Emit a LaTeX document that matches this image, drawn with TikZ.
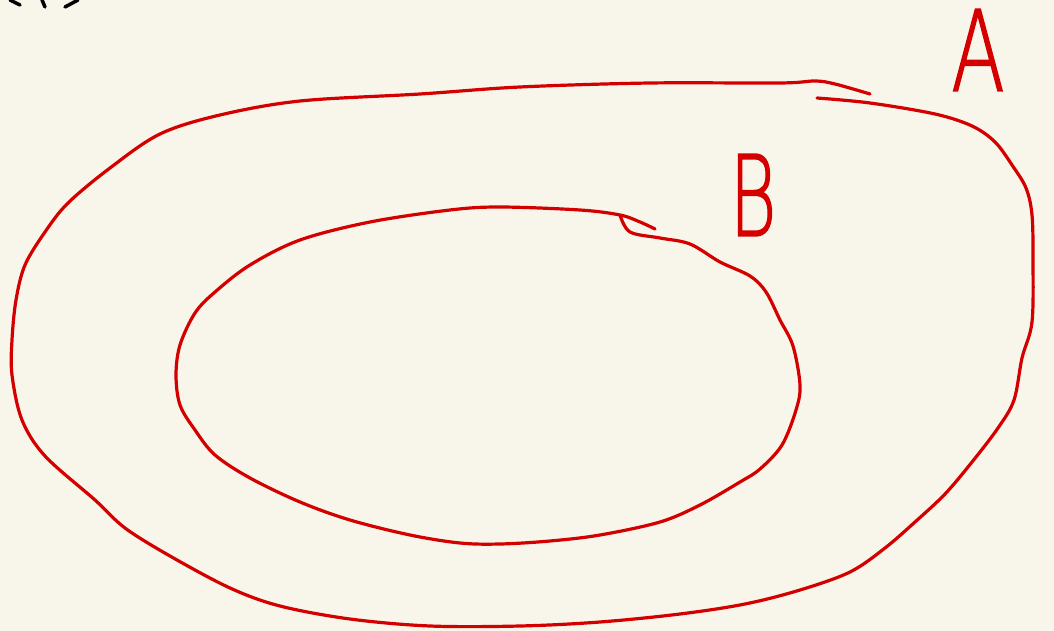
\documentclass[tikz,border=0pt]{standalone}
\usepackage{fontspec}
\newfontfamily\handfont{DejaVu Sans ExtraLight}[FakeBold=1.6]
\definecolor{paper}{RGB}{248,246,234}
\definecolor{inkred}{RGB}{212,0,0}

\begin{document}
\begin{tikzpicture}[
        x=1pt, y=-1pt,
        stroke/.style={draw=inkred, line width=3.2pt, line cap=round, line join=round},
        scrap/.style={draw=black, line width=3.5pt, line cap=round},
        setlabel/.style={text=inkred, font=\handfont\fontsize{112}{112}\selectfont, inner sep=0pt}
    ]

    % Paper
    \fill[paper] (0,0) rectangle (1054,631);
    \useasboundingbox (0,0) rectangle (1054,631);

    % Cut-off writing at the top
    \draw[scrap] (10,0) -- (20,5);
    \draw[scrap] (42,0) .. controls (43,3) .. (45,7);
    \draw[scrap] (65,7) .. controls (72,4) .. (78,0);

    % Outer set A
    \draw[stroke] plot[smooth, tension=0.55] coordinates {
        (817,98) (870,103) (935,114) (972,126) (995,142) (1012,165) (1026,188)
        (1032,215) (1033,260) (1032,322) (1022,358) (1014,400) (998,428)
        (972,462) (945,494) (915,522) (885,548) (850,572) (800,590) (745,604)
        (680,614) (600,622) (520,626) (430,626) (350,619) (280,606) (230,588)
        (170,556) (125,528) (95,500) (45,456) (22,420) (12,375) (12,340)
        (16,300) (25,265) (45,232) (68,203) (110,168) (160,134) (220,115)
        (300,101) (420,94) (520,87) (650,83) (780,83) (815,81) (835,84) (870,94)
    };
    \node[setlabel, xscale=0.7] (labelA) at (978,50) {A};

    % Inner set B
    \draw[stroke] plot[smooth, tension=0.55] coordinates {
        (620,215) (630,232) (660,238) (690,244) (720,262) (750,276) (766,292)
        (780,320) (793,346) (800,385) (796,410) (782,445) (760,469) (740,482)
        (700,505) (660,522) (600,535) (550,541) (500,544) (460,543) (410,535)
        (350,520) (300,502) (250,478) (215,455) (195,430) (180,405) (176,375)
        (180,345) (195,313) (215,292) (250,265) (300,240) (370,222) (450,210)
        (500,207) (580,210) (620,215) (640,222) (655,229)
    };
    \node[setlabel, xscale=0.64] (labelB) at (753,195) {B};

\end{tikzpicture}
\end{document}
